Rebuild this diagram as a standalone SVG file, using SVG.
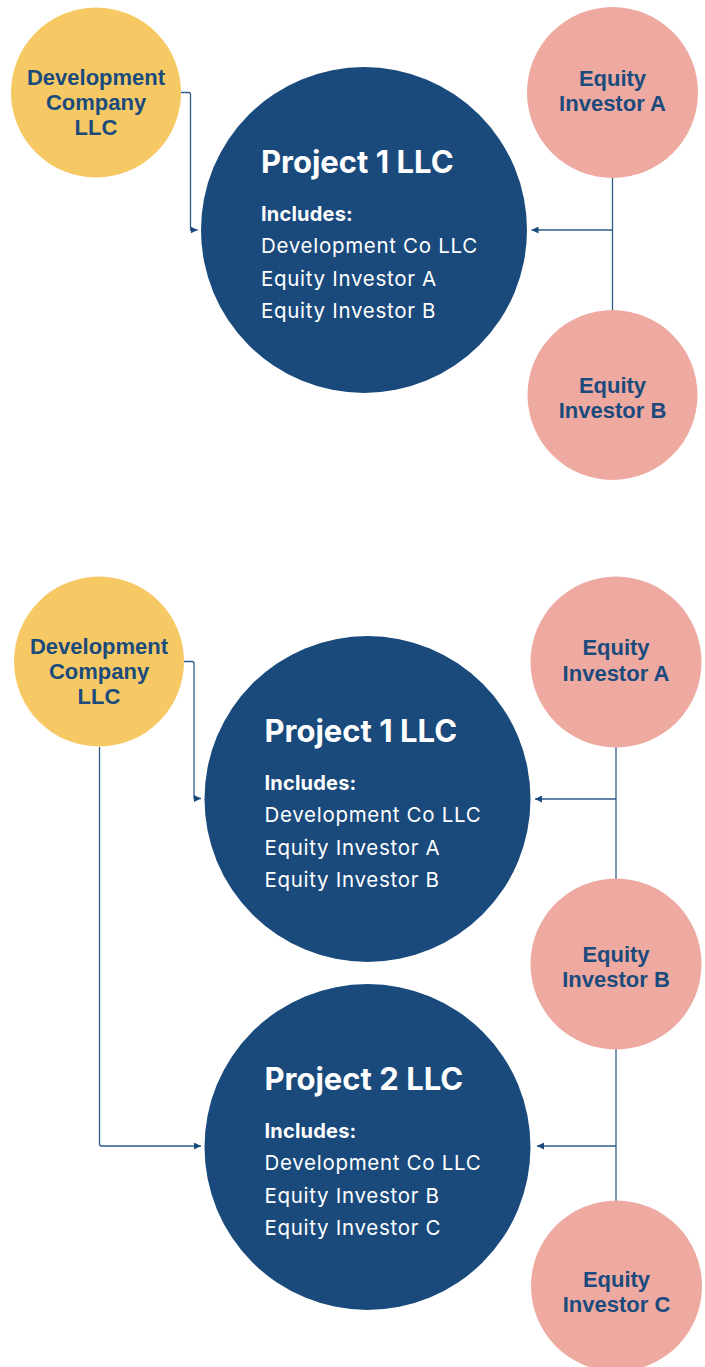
<svg xmlns="http://www.w3.org/2000/svg" width="705" height="1367" viewBox="0 0 705 1367">
<defs>
<style>
.dev{fill:#F6C965}
.inv{fill:#EEA9A0}
.proj{fill:#1A4A7C}
.lbl{font-family:"Liberation Sans",Arial,sans-serif;font-weight:bold;font-size:22px;fill:#1B4A7C;text-anchor:middle}
.title{font-family:Inter,"Liberation Sans",sans-serif;font-weight:bold;font-size:31px;fill:#FFFFFF}
.inc{font-family:Inter,"Liberation Sans",sans-serif;font-weight:bold;font-size:20px;fill:#FFFFFF;letter-spacing:0.2px}
.item{font-family:Inter,"Liberation Sans",sans-serif;font-size:20.5px;fill:#FFFFFF;letter-spacing:0.7px}
.conn{fill:none;stroke:#2D5B8D;stroke-width:1.3}
</style>
<marker id="arr" viewBox="0 0 10 10" refX="10" refY="5" markerWidth="7" markerHeight="7" markerUnits="userSpaceOnUse" orient="auto">
<path d="M0,0 L10,5 L0,10 Z" fill="#1A4A7C"/>
</marker>
</defs>

<g id="connectors">
<path class="conn" d="M181,92.5 H188.5 Q190.5,92.5 190.5,94.5 V230 H197.5" marker-end="url(#arr)"/>
<path class="conn" d="M612.5,178 V310"/>
<path class="conn" d="M612.5,230 H531.5" marker-end="url(#arr)"/>
<path class="conn" d="M184,661.5 H192 Q194,661.5 194,663.5 V798.5 H201" marker-end="url(#arr)"/>
<path class="conn" d="M99.5,747 V1144 Q99.5,1146 101.5,1146 H201" marker-end="url(#arr)"/>
<path class="conn" d="M616,747 V879"/>
<path class="conn" d="M616,799 H535" marker-end="url(#arr)"/>
<path class="conn" d="M616,1049 V1201"/>
<path class="conn" d="M616,1146 H537" marker-end="url(#arr)"/>
</g>

<g id="devco1">
<circle class="dev" cx="96" cy="92.5" r="85"/>
<text class="lbl" x="96" y="85">Development</text>
<text class="lbl" x="96" y="110">Company</text>
<text class="lbl" x="96" y="135">LLC</text>
</g>

<g id="project1a">
<circle class="proj" cx="364" cy="230" r="163"/>
<text class="title" x="261" y="172.5">Project 1 LLC</text>
<text class="inc" x="261" y="221">Includes:</text>
<text class="item" x="261" y="253">Development Co LLC</text>
<text class="item" x="261" y="285.5">Equity Investor A</text>
<text class="item" x="261" y="318">Equity Investor B</text>
</g>

<g id="investorA1">
<circle class="inv" cx="612.5" cy="92.5" r="85.5"/>
<text class="lbl" x="612.5" y="86">Equity</text>
<text class="lbl" x="612.5" y="111">Investor A</text>
</g>

<g id="investorB1">
<circle class="inv" cx="612.5" cy="395" r="85"/>
<text class="lbl" x="612.5" y="393">Equity</text>
<text class="lbl" x="612.5" y="418">Investor B</text>
</g>

<g id="devco2">
<circle class="dev" cx="99" cy="661.5" r="85"/>
<text class="lbl" x="99" y="654">Development</text>
<text class="lbl" x="99" y="679">Company</text>
<text class="lbl" x="99" y="704">LLC</text>
</g>

<g id="project1b">
<circle class="proj" cx="367.5" cy="799" r="163"/>
<text class="title" x="264.5" y="741.5">Project 1 LLC</text>
<text class="inc" x="264.5" y="790">Includes:</text>
<text class="item" x="264.5" y="822">Development Co LLC</text>
<text class="item" x="264.5" y="854.5">Equity Investor A</text>
<text class="item" x="264.5" y="887">Equity Investor B</text>
</g>

<g id="project2">
<circle class="proj" cx="367.5" cy="1147" r="163"/>
<text class="title" x="264.5" y="1089.5">Project 2 LLC</text>
<text class="inc" x="264.5" y="1138">Includes:</text>
<text class="item" x="264.5" y="1170">Development Co LLC</text>
<text class="item" x="264.5" y="1202.5">Equity Investor B</text>
<text class="item" x="264.5" y="1235">Equity Investor C</text>
</g>

<g id="investorA2">
<circle class="inv" cx="616" cy="662" r="85.5"/>
<text class="lbl" x="616" y="655">Equity</text>
<text class="lbl" x="616" y="681">Investor A</text>
</g>

<g id="investorB2">
<circle class="inv" cx="616" cy="964" r="85.5"/>
<text class="lbl" x="616" y="962">Equity</text>
<text class="lbl" x="616" y="987">Investor B</text>
</g>

<g id="investorC">
<circle class="inv" cx="616.5" cy="1286" r="85.5"/>
<text class="lbl" x="616.5" y="1287">Equity</text>
<text class="lbl" x="616.5" y="1312">Investor C</text>
</g>
</svg>
